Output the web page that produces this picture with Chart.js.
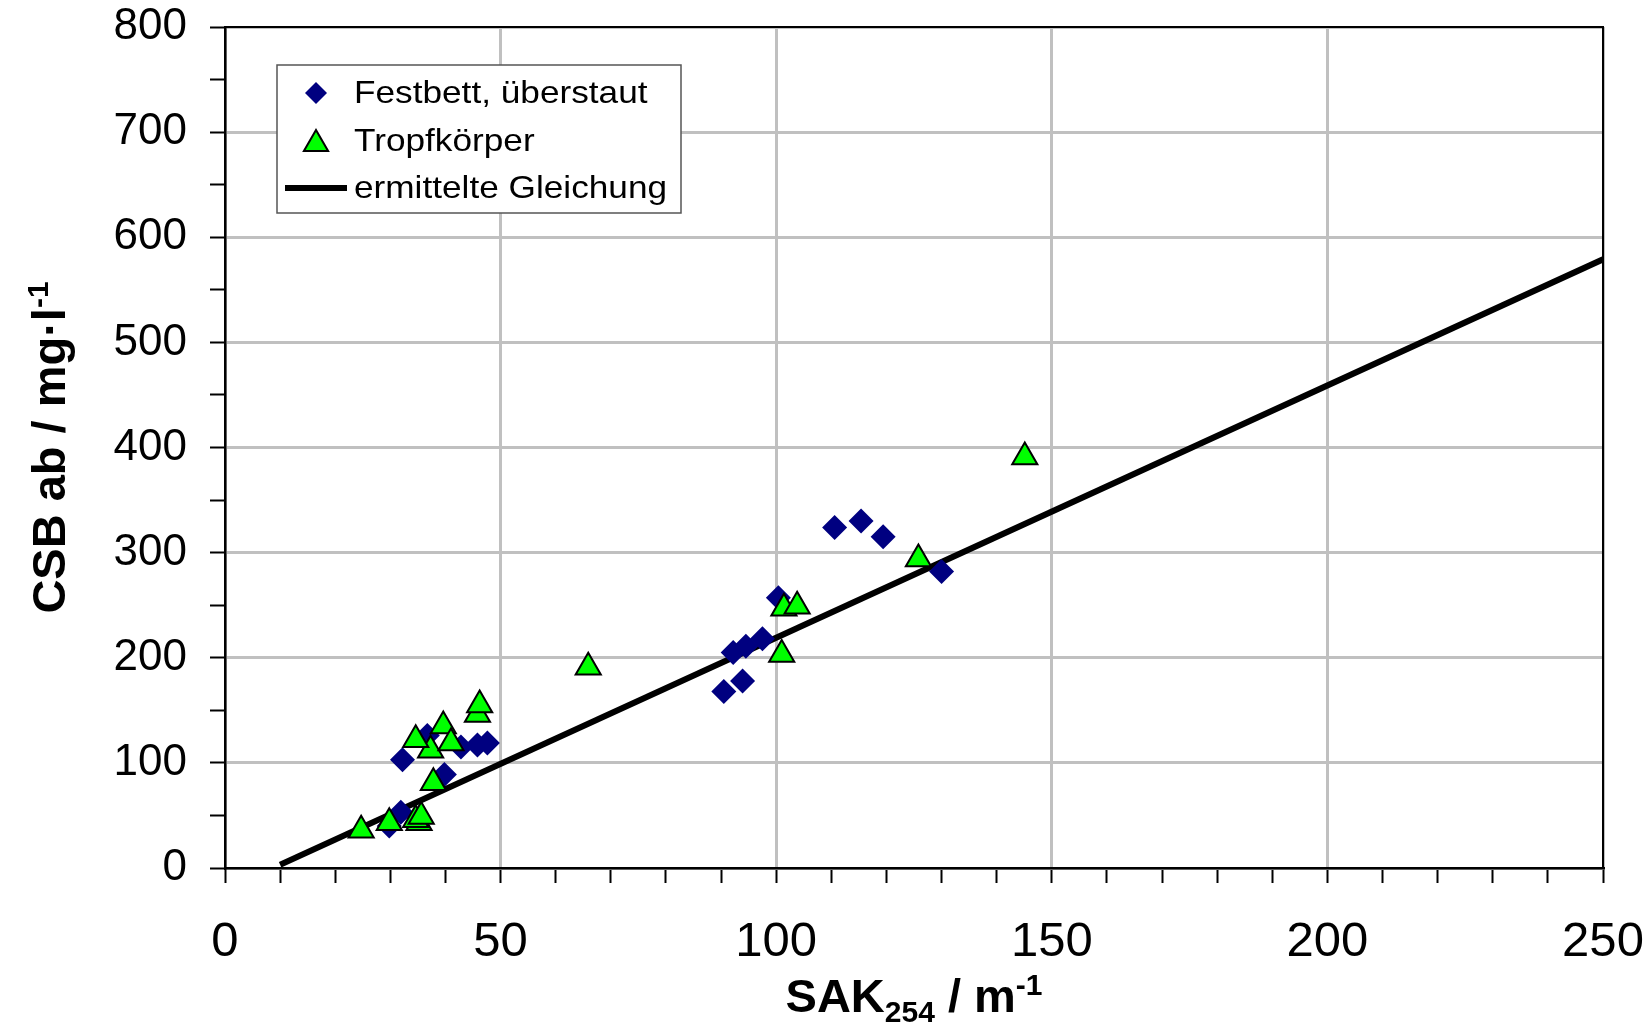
<!DOCTYPE html>
<html>
<head>
<meta charset="utf-8">
<title>CSB ab vs SAK254</title>
<script src="https://cdn.jsdelivr.net/npm/chart.js@4/dist/chart.umd.min.js"></script>
<style>
    html, body { margin: 0; padding: 0; background: #fff; }
    #chart { display: block; }
</style>
</head>
<body>
<canvas id="chart" width="1652" height="1028"></canvas>
<script>
"use strict";

// values
const festbettX = [32.2, 36.7, 42.8, 45.8, 47.6, 39.8, 31.9, 29.8, 90.5, 93.9, 92.2, 94.5, 97.5, 100.4, 110.6, 115.4, 119.4, 130.0];
const festbettY = [103, 126, 115, 117, 119, 89, 53, 40, 168, 178, 205, 211, 218, 257, 324, 330, 315, 282];

const tropfX = [24.7, 29.8, 35.2, 34.6, 35.6, 37.8, 37.3, 34.6, 39.6, 41.0, 45.8, 46.2, 65.9, 101.0, 101.4, 103.8, 125.8, 145.1];
const tropfY = [36, 43, 43, 46, 49, 81, 112, 122, 135, 119, 146, 155, 191, 203, 247, 249, 294, 391];

// ermittelte Gleichung, end points
const fitX = [10, 250];
const fitY = [3, 579];

const seriesNames = ["Festbett, überstaut", "Tropfkörper", "ermittelte Gleichung"];
const xTitle = [["SAK", 0], ["254", 1], [" / m", 0], ["-1", -1]];
const yTitle = [["CSB ab / mg·l", 0], ["-1", -1]];

(function() {
    const FONT = "'Liberation Sans', Arial, sans-serif";

    function toPoints(xs, ys) {
        return xs.map((x, i) => ({ x: x, y: ys[i] }));
    }

    // text with sub / superscripts, centred on (0, 0) baseline
    function drawRich(ctx, parts, size) {
        const small = Math.round(size * 0.64);
        let widths = parts.map(p => {
            ctx.font = "bold " + (p[1] === 0 ? size : small) + "px " + FONT;
            return ctx.measureText(p[0]).width;
        });
        let total = widths.reduce((a, b) => a + b, 0);
        let x = -total / 2;
        ctx.textAlign = "left";
        ctx.textBaseline = "alphabetic";
        parts.forEach((p, i) => {
            ctx.font = "bold " + (p[1] === 0 ? size : small) + "px " + FONT;
            let dy = p[1] === 1 ? 10 : (p[1] === -1 ? -17 : 0);
            ctx.fillText(p[0], x, dy);
            x += widths[i];
        });
    }

    const titles = {
        id: "axisTitles",
        afterDraw(chart) {
            const ctx = chart.ctx;
            const area = chart.chartArea;
            ctx.save();
            ctx.fillStyle = "#000";
            ctx.translate((area.left + area.right) / 2, 1012);
            drawRich(ctx, xTitle, 47);
            ctx.restore();

            ctx.save();
            ctx.fillStyle = "#000";
            ctx.translate(65, (area.top + area.bottom) / 2);
            ctx.rotate(-Math.PI / 2);
            drawRich(ctx, yTitle, 47);
            ctx.restore();
        }
    };

    const frame = {
        id: "frame",
        afterDatasetsDraw(chart) {
            const ctx = chart.ctx;
            const a = chart.chartArea;
            ctx.save();
            ctx.strokeStyle = "#000";
            ctx.lineWidth = 2;
            ctx.beginPath();
            ctx.moveTo(a.left, a.top);
            ctx.lineTo(a.right, a.top);
            ctx.lineTo(a.right, a.bottom);
            ctx.stroke();
            ctx.restore();
        }
    };

    const legendBox = {
        id: "legendBox",
        afterDraw(chart) {
            const ctx = chart.ctx;
            const ds = chart.data.datasets;
            const diamonds = ds.find(d => d.label === seriesNames[0]);
            const triangles = ds.find(d => d.label === seriesNames[1]);
            ctx.save();
            ctx.fillStyle = "#fff";
            ctx.strokeStyle = "#555";
            ctx.lineWidth = 1.5;
            ctx.fillRect(277, 65, 404, 148);
            ctx.strokeRect(277, 65, 404, 148);

            const rows = [93, 141, 188];
            // markers
            ctx.fillStyle = diamonds.backgroundColor;
            ctx.strokeStyle = diamonds.borderColor;
            Chart.helpers.drawPoint(ctx, {
                pointStyle: "rectRot", radius: 11, borderWidth: 0
            }, 316, rows[0]);

            ctx.fillStyle = triangles.backgroundColor;
            ctx.strokeStyle = triangles.borderColor;
            ctx.lineWidth = 2;
            Chart.helpers.drawPoint(ctx, {
                pointStyle: "triangle", radius: 14, borderWidth: 2
            }, 316, rows[1] + 3);

            ctx.strokeStyle = "#000";
            ctx.lineWidth = 6;
            ctx.beginPath();
            ctx.moveTo(285, rows[2]);
            ctx.lineTo(347, rows[2]);
            ctx.stroke();

            ctx.fillStyle = "#000";
            ctx.font = "32px " + FONT;
            ctx.textAlign = "left";
            ctx.textBaseline = "middle";
            seriesNames.forEach((name, i) => {
                ctx.save();
                ctx.translate(354, rows[i] + 1);
                ctx.scale(1.1, 1);
                ctx.fillText(name, 0, 0);
                ctx.restore();
            });
            ctx.restore();
        }
    };

    function Start() {
        const ctx = document.getElementById("chart").getContext("2d");

        new Chart(ctx, {
            type: "scatter",
            data: {
                datasets: [{
                    label: seriesNames[1],
                    data: toPoints(tropfX, tropfY),
                    pointStyle: "triangle",
                    pointRadius: 14.5,
                    backgroundColor: "#00ff00",
                    borderColor: "#000",
                    borderWidth: 2,
                    order: 0,
                }, {
                    label: seriesNames[0],
                    data: toPoints(festbettX, festbettY),
                    pointStyle: "rectRot",
                    pointRadius: 12.5,
                    backgroundColor: "#000080",
                    borderColor: "#000080",
                    borderWidth: 0,
                    order: 1,
                }, {
                    label: seriesNames[2],
                    data: toPoints(fitX, fitY),
                    showLine: true,
                    pointRadius: 0,
                    borderColor: "#000",
                    borderWidth: 6,
                    order: 2,
                }],
            },
            options: {
                responsive: false,
                animation: false,
                layout: { padding: { left: 0, top: 27, right: 49, bottom: 0 } },
                plugins: {
                    legend: { display: false },
                    tooltip: { enabled: false },
                },
                scales: {
                    x: {
                        type: "linear",
                        min: 0,
                        max: 250,
                        afterFit: scale => {
                            scale.height = 160;
                            scale.paddingLeft = 0;
                            scale.paddingRight = 0;
                        },
                        ticks: {
                            stepSize: 10,
                            autoSkip: false,
                            maxRotation: 0,
                            padding: 30,
                            color: "#000",
                            font: { family: FONT, size: 49 },
                            callback: v => (v % 50 === 0 ? String(v) : ""),
                        },
                        grid: {
                            color: c => (c.tick && c.tick.value % 50 === 0 ? "#c0c0c0" : "rgba(0,0,0,0)"),
                            lineWidth: 3,
                            tickColor: "#000",
                            tickLength: 15,
                            tickWidth: 2,
                        },
                        border: { color: "#000", width: 2.5 },
                    },
                    y: {
                        type: "linear",
                        min: 0,
                        max: 800,
                        afterFit: scale => {
                            scale.width = 225;
                            scale.paddingTop = 0;
                            scale.paddingBottom = 0;
                        },
                        ticks: {
                            stepSize: 50,
                            autoSkip: false,
                            padding: 23,
                            color: "#000",
                            font: { family: FONT, size: 44 },
                            callback: v => (v % 100 === 0 ? String(v) : ""),
                        },
                        grid: {
                            color: c => (c.tick && c.tick.value % 100 === 0 ? "#c0c0c0" : "rgba(0,0,0,0)"),
                            lineWidth: 3,
                            tickColor: "#000",
                            tickLength: 15,
                            tickWidth: 2,
                        },
                        border: { color: "#000", width: 2.5 },
                    },
                },
            },
            plugins: [frame, titles, legendBox],
        });
    }

    window.addEventListener("load", Start);
})();
</script>
</body>
</html>
